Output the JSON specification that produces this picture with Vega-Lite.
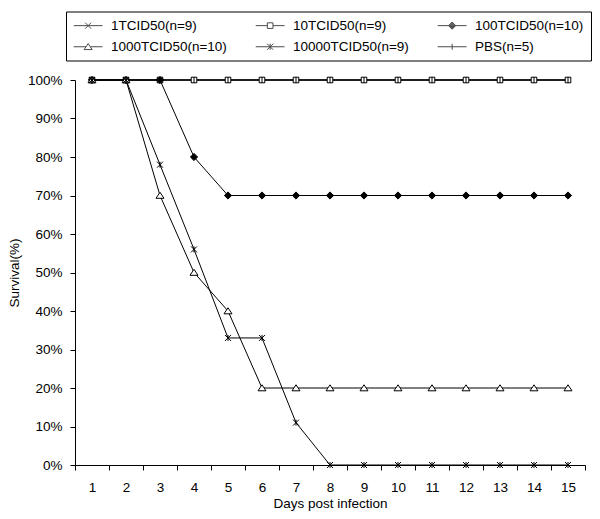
{
  "$schema": "https://vega.github.io/schema/vega-lite/v6.json",
  "autosize": {"type": "none"},
  "width": 510,
  "height": 385,
  "padding": {"left": 75, "top": 80, "right": 15, "bottom": 54},
  "background": "white",
  "config": {
    "view": {"stroke": null},
    "font": "Liberation Sans",
    "axis": {"labelFont": "Liberation Sans", "titleFont": "Liberation Sans", "labelFontSize": 13.5, "titleFontSize": 13.5, "titleFontWeight": "normal", "labelColor": "black", "titleColor": "black", "domainColor": "black", "tickColor": "black", "grid": false, "tickSize": 5}
  },
  "data": {"values": [
    {"day":1,"group":"1TCID50(n=9)","survival":1},{"day":2,"group":"1TCID50(n=9)","survival":1},{"day":3,"group":"1TCID50(n=9)","survival":1},{"day":4,"group":"1TCID50(n=9)","survival":1},{"day":5,"group":"1TCID50(n=9)","survival":1},{"day":6,"group":"1TCID50(n=9)","survival":1},{"day":7,"group":"1TCID50(n=9)","survival":1},{"day":8,"group":"1TCID50(n=9)","survival":1},{"day":9,"group":"1TCID50(n=9)","survival":1},{"day":10,"group":"1TCID50(n=9)","survival":1},{"day":11,"group":"1TCID50(n=9)","survival":1},{"day":12,"group":"1TCID50(n=9)","survival":1},{"day":13,"group":"1TCID50(n=9)","survival":1},{"day":14,"group":"1TCID50(n=9)","survival":1},{"day":15,"group":"1TCID50(n=9)","survival":1},
    {"day":1,"group":"10TCID50(n=9)","survival":1},{"day":2,"group":"10TCID50(n=9)","survival":1},{"day":3,"group":"10TCID50(n=9)","survival":1},{"day":4,"group":"10TCID50(n=9)","survival":1},{"day":5,"group":"10TCID50(n=9)","survival":1},{"day":6,"group":"10TCID50(n=9)","survival":1},{"day":7,"group":"10TCID50(n=9)","survival":1},{"day":8,"group":"10TCID50(n=9)","survival":1},{"day":9,"group":"10TCID50(n=9)","survival":1},{"day":10,"group":"10TCID50(n=9)","survival":1},{"day":11,"group":"10TCID50(n=9)","survival":1},{"day":12,"group":"10TCID50(n=9)","survival":1},{"day":13,"group":"10TCID50(n=9)","survival":1},{"day":14,"group":"10TCID50(n=9)","survival":1},{"day":15,"group":"10TCID50(n=9)","survival":1},
    {"day":1,"group":"100TCID50(n=10)","survival":1},{"day":2,"group":"100TCID50(n=10)","survival":1},{"day":3,"group":"100TCID50(n=10)","survival":1},{"day":4,"group":"100TCID50(n=10)","survival":0.8},{"day":5,"group":"100TCID50(n=10)","survival":0.7},{"day":6,"group":"100TCID50(n=10)","survival":0.7},{"day":7,"group":"100TCID50(n=10)","survival":0.7},{"day":8,"group":"100TCID50(n=10)","survival":0.7},{"day":9,"group":"100TCID50(n=10)","survival":0.7},{"day":10,"group":"100TCID50(n=10)","survival":0.7},{"day":11,"group":"100TCID50(n=10)","survival":0.7},{"day":12,"group":"100TCID50(n=10)","survival":0.7},{"day":13,"group":"100TCID50(n=10)","survival":0.7},{"day":14,"group":"100TCID50(n=10)","survival":0.7},{"day":15,"group":"100TCID50(n=10)","survival":0.7},
    {"day":1,"group":"1000TCID50(n=10)","survival":1},{"day":2,"group":"1000TCID50(n=10)","survival":1},{"day":3,"group":"1000TCID50(n=10)","survival":0.7},{"day":4,"group":"1000TCID50(n=10)","survival":0.5},{"day":5,"group":"1000TCID50(n=10)","survival":0.4},{"day":6,"group":"1000TCID50(n=10)","survival":0.2},{"day":7,"group":"1000TCID50(n=10)","survival":0.2},{"day":8,"group":"1000TCID50(n=10)","survival":0.2},{"day":9,"group":"1000TCID50(n=10)","survival":0.2},{"day":10,"group":"1000TCID50(n=10)","survival":0.2},{"day":11,"group":"1000TCID50(n=10)","survival":0.2},{"day":12,"group":"1000TCID50(n=10)","survival":0.2},{"day":13,"group":"1000TCID50(n=10)","survival":0.2},{"day":14,"group":"1000TCID50(n=10)","survival":0.2},{"day":15,"group":"1000TCID50(n=10)","survival":0.2},
    {"day":1,"group":"10000TCID50(n=9)","survival":1},{"day":2,"group":"10000TCID50(n=9)","survival":1},{"day":3,"group":"10000TCID50(n=9)","survival":0.78},{"day":4,"group":"10000TCID50(n=9)","survival":0.56},{"day":5,"group":"10000TCID50(n=9)","survival":0.33},{"day":6,"group":"10000TCID50(n=9)","survival":0.33},{"day":7,"group":"10000TCID50(n=9)","survival":0.11},{"day":8,"group":"10000TCID50(n=9)","survival":0},{"day":9,"group":"10000TCID50(n=9)","survival":0},{"day":10,"group":"10000TCID50(n=9)","survival":0},{"day":11,"group":"10000TCID50(n=9)","survival":0},{"day":12,"group":"10000TCID50(n=9)","survival":0},{"day":13,"group":"10000TCID50(n=9)","survival":0},{"day":14,"group":"10000TCID50(n=9)","survival":0},{"day":15,"group":"10000TCID50(n=9)","survival":0},
    {"day":1,"group":"PBS(n=5)","survival":1},{"day":2,"group":"PBS(n=5)","survival":1},{"day":3,"group":"PBS(n=5)","survival":1},{"day":4,"group":"PBS(n=5)","survival":1},{"day":5,"group":"PBS(n=5)","survival":1},{"day":6,"group":"PBS(n=5)","survival":1},{"day":7,"group":"PBS(n=5)","survival":1},{"day":8,"group":"PBS(n=5)","survival":1},{"day":9,"group":"PBS(n=5)","survival":1},{"day":10,"group":"PBS(n=5)","survival":1},{"day":11,"group":"PBS(n=5)","survival":1},{"day":12,"group":"PBS(n=5)","survival":1},{"day":13,"group":"PBS(n=5)","survival":1},{"day":14,"group":"PBS(n=5)","survival":1},{"day":15,"group":"PBS(n=5)","survival":1}
  ]},
  "encoding": {
    "x": {"field": "day", "type": "ordinal", "scale": {"paddingInner": 0, "paddingOuter": 0}, "axis": {"title": "Days post infection", "labelAngle": 0, "tickBand": "extent", "labelPadding": 10, "titlePadding": 3}},
    "y": {"field": "survival", "type": "quantitative", "scale": {"domain": [0, 1], "nice": false}, "axis": {"title": "Survival(%)", "values": [0,0.1,0.2,0.3,0.4,0.5,0.6,0.7,0.8,0.9,1], "format": ".0%", "labelPadding": 8, "titlePadding": 6}}
  },
  "layer": [
    {
      "mark": {"type": "line", "color": "black", "strokeWidth": 1},
      "encoding": {"detail": {"field": "group"}}
    },
    {
      "mark": {"type": "point", "filled": false, "stroke": "black", "strokeWidth": 1, "size": 64, "opacity": 1},
      "encoding": {
        "shape": {"field": "group", "type": "nominal", "legend": null, "scale": {
          "domain": ["1TCID50(n=9)", "10TCID50(n=9)", "100TCID50(n=10)", "1000TCID50(n=10)", "10000TCID50(n=9)", "PBS(n=5)"],
          "range": [
            "M-0.75,-0.75L0.75,0.75M-0.75,0.75L0.75,-0.75",
            "M-0.7,-0.7L0.7,-0.7L0.7,0.7L-0.7,0.7Z",
            "M0,-0.9L0.9,0L0,0.9L-0.9,0Z",
            "M0,-0.8L1,0.7L-1,0.7Z",
            "M-0.75,-0.75L0.75,0.75M-0.75,0.75L0.75,-0.75M0,-0.75L0,0.75",
            "M0,-0.75L0,0.75"
          ]}},
        "fill": {"condition": {"test": "datum.group === '100TCID50(n=10)'", "value": "black"}, "value": "white"}
      }
    },
    {
      "transform": [{"filter": "false"}],
      "mark": {"type": "point", "filled": false, "stroke": "black", "strokeWidth": 1},
      "encoding": {
        "x": null, "y": null,
        "shape": {"field": "group", "type": "nominal", "scale": {
          "domain": ["1TCID50(n=9)", "10TCID50(n=9)", "100TCID50(n=10)", "1000TCID50(n=10)", "10000TCID50(n=9)", "PBS(n=5)"],
          "range": [
            "M-2.4,0L2.4,0M-0.5,-0.5L0.5,0.5M-0.5,0.5L0.5,-0.5",
            "M-2.4,0L-0.47,0M0.47,0L2.4,0M-0.47,-0.47L0.47,-0.47L0.47,0.47L-0.47,0.47Z",
            "M-2.4,0L2.4,0M0,-0.6L0.6,0L0,0.6L-0.6,0ZM-0.45,-0.15L0.45,-0.15M-0.45,0.15L0.45,0.15M-0.3,-0.3L0.3,-0.3M-0.3,0.3L0.3,0.3M-0.15,-0.45L0.15,-0.45M-0.15,0.45L0.15,0.45",
            "M-2.4,0L-0.36,0M0.36,0L2.4,0M0,-0.53L0.67,0.47L-0.67,0.47Z",
            "M-2.4,0L2.4,0M-0.5,-0.5L0.5,0.5M-0.5,0.5L0.5,-0.5M0,-0.5L0,0.5",
            "M-2.4,0L2.4,0M0,-0.5L0,0.5"
          ]},
          "legend": {
            "title": null, "orient": "none", "legendX": -9, "legendY": -68.5,
            "direction": "horizontal", "columns": 3, "columnPadding": 26, "rowPadding": 6.5,
            "padding": 7, "strokeColor": "black", "fillColor": "white",
            "symbolSize": 144, "symbolOffset": 8.4, "labelOffset": 16,
            "symbolStrokeColor": "black", "symbolStrokeWidth": 1, "symbolFillColor": "white",
            "labelFont": "Liberation Sans", "labelFontSize": 13.5, "labelColor": "black", "labelLimit": 300
          }
        }
      }
    }
  ],
  "resolve": {"scale": {"shape": "independent"}}
}
